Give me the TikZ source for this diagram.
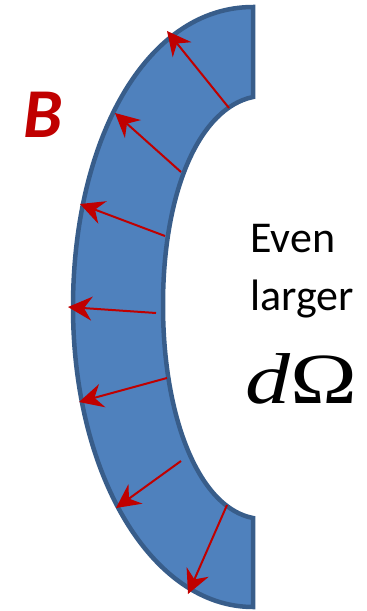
\documentclass[tikz,border=0pt]{standalone}
\usepackage{fontspec}
\usepackage{graphicx}
\usetikzlibrary{arrows.meta}
\newfontfamily\carlito{Carlito}
\newfontfamily\libserif{Liberation Serif}
\definecolor{arcfill}{HTML}{4F81BD}
\definecolor{arcline}{HTML}{385D8A}
\definecolor{fieldred}{HTML}{C00000}
\tikzset{
  arcshape/.style={fill=arcfill, draw=arcline, line width=4.5pt, line join=miter},
  fieldarrow/.style={draw=fieldred, line width=2pt, -{Stealth[length=24pt,width=24pt,inset=8pt]}},
  label/.style={inner sep=0pt, anchor=base west}
}
\begin{document}
\begin{tikzpicture}[x=1pt,y=-1pt]
\useasboundingbox (0,0) rectangle (367,611);
\path[arcshape]
  (253,7) .. controls (145,7) and (73,142) .. (73,307)
  .. controls (73,475) and (152,607) .. (253,607)
  -- (253,518)
  .. controls (200,508) and (163,420) .. (163,305)
  .. controls (163,190) and (200,108) .. (253,97)
  -- cycle;
% arrow end points
\coordinate (s1) at (229,108); \coordinate (t1) at (167,31);
\coordinate (s2) at (181,172); \coordinate (t2) at (115,113);
\coordinate (s3) at (165,236); \coordinate (t3) at (80,204);
\coordinate (s4) at (156,313); \coordinate (t4) at (68,307);
\coordinate (s5) at (167,378); \coordinate (t5) at (79,402);
\coordinate (s6) at (181,461); \coordinate (t6) at (116,508);
\coordinate (s7) at (227,505); \coordinate (t7) at (188,594);
\foreach \i in {1,...,7} { \draw[fieldarrow] (s\i) -- (t\i); }
\node[label, text=fieldred] (B) at (23,137) {\carlito\bfseries\itshape\fontsize{70}{70}\selectfont B};
\node[label] (even) at (250,252) {\carlito\fontsize{44}{44}\selectfont Even};
\node[label] (larger) at (250,310) {\carlito\fontsize{44}{44}\selectfont larger};
\node[label] (dO) at (245,403) {\scalebox{1.25}[1]{\libserif\fontsize{72}{72}\selectfont\itshape d\upshape Ω}};
\end{tikzpicture}
\end{document}
